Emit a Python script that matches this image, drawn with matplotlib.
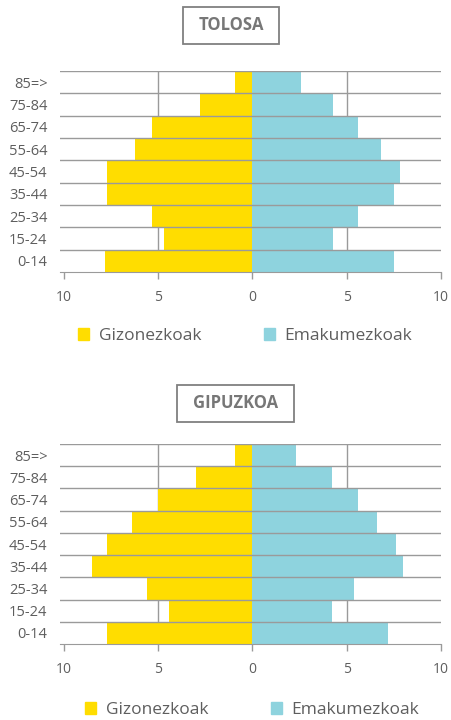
import matplotlib.pyplot as plt
from matplotlib.patches import Rectangle, Patch

plt.rcParams['font.family'] = ['Open Sans', 'DejaVu Sans']

age_groups = ["0-14", "15-24", "25-34", "35-44", "45-54", "55-64", "65-74", "75-84", "85=>"]

# percent of population, listed from 0-14 up to 85=>
tolosa_men = [7.8, 4.7, 5.3, 7.7, 7.7, 6.2, 5.3, 2.8, 0.9]
tolosa_women = [7.5, 4.3, 5.6, 7.5, 7.8, 6.8, 5.6, 4.3, 2.6]
gipuzkoa_men = [7.7, 4.4, 5.6, 8.5, 7.7, 6.4, 5.0, 3.0, 0.9]
gipuzkoa_women = [7.2, 4.2, 5.4, 8.0, 7.6, 6.6, 5.6, 4.2, 2.3]

x_ticks = [-10, -5, 0, 5, 10]
x_tick_labels = ["10", "5", "0", "5", "10"]

men_label = "Gizonezkoak"
women_label = "Emakumezkoak"

yellow = "#FFDD00"
blue = "#8ED3DE"
grid_color = "#9a9a9a"
text_color = "#5e5e5e"

W, H = 452, 720
fig = plt.figure(figsize=(W / 100, H / 100), dpi=100)


def pyramid(top_px, bottom_px, men, women, title, box, legend_y, legend_x):
    ax = fig.add_axes([60 / W, 1 - bottom_px / H, 381 / W, (bottom_px - top_px) / H])
    ypos = list(range(len(age_groups)))
    ax.barh(ypos, [-v for v in men], height=1.0, color=yellow, zorder=2)
    ax.barh(ypos, women, height=1.0, color=blue, zorder=2)
    ax.set_xlim(-10.2, 10)
    ax.set_ylim(-0.5, len(age_groups) - 0.5)

    for x in (-5, 5):
        ax.axvline(x, color=grid_color, lw=1, zorder=1)
    for k in range(len(age_groups)):
        ax.axhline(k + 0.5, color=grid_color, lw=1, zorder=3)

    for side in ("top", "left", "right"):
        ax.spines[side].set_visible(False)
    ax.spines["bottom"].set_color(grid_color)
    ax.spines["bottom"].set_zorder(3)

    ax.set_xticks(x_ticks)
    ax.set_xticklabels(x_tick_labels)
    ax.set_yticks(ypos)
    ax.set_yticklabels(age_groups)
    ax.tick_params(axis="x", colors=grid_color, length=5, width=1, pad=8,
                   labelsize=10, labelcolor=text_color)
    ax.tick_params(axis="y", length=0, pad=9, labelsize=10.5, labelcolor=text_color)

    # title box
    x0, y0, x1, y1 = box
    fig.patches.append(Rectangle((x0 / W, 1 - y1 / H), (x1 - x0) / W, (y1 - y0) / H,
                                 transform=fig.transFigure, fill=False,
                                 edgecolor="#808080", lw=1.3))
    fig.text((x0 + x1) / 2 / W, 1 - (y0 + y1) / 2 / H, title, ha="center", va="center",
             fontsize=12, fontweight="bold", color="#777777")

    handles = [Patch(color=yellow, label=men_label), Patch(color=blue, label=women_label)]
    fig.legend(handles=handles, loc="center", bbox_to_anchor=(legend_x / W, 1 - legend_y / H),
               ncol=2, frameon=False, fontsize=12.5, labelcolor=text_color,
               handlelength=0.65, handleheight=0.65, handletextpad=0.55,
               columnspacing=3.6, borderaxespad=0)
    return ax


pyramid(71, 272, tolosa_men, tolosa_women, "TOLOSA", (183, 7, 279, 44), 336, 245)
pyramid(444, 644, gipuzkoa_men, gipuzkoa_women, "GIPUZKOA", (177, 385, 294, 422), 710, 252)

fig.savefig("out.png", dpi=100)
